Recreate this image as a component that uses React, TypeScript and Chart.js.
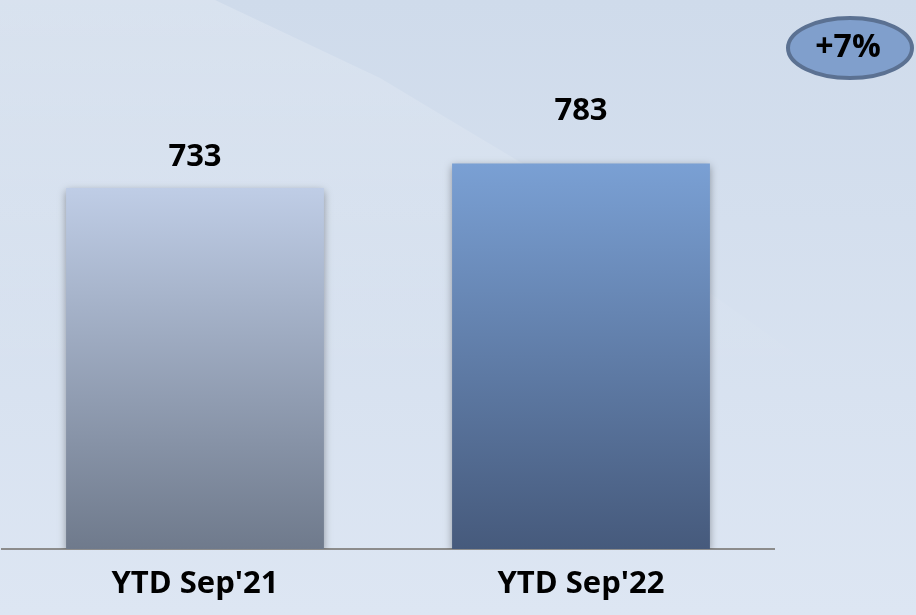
import { useEffect, useRef } from "react";
import { Chart, registerables } from "chart.js";

Chart.register(...registerables);

const categories = ["YTD Sep'21", "YTD Sep'22"];
const values = [733, 783];
const labelOffsets = [31, 52];

const FONT = "'Open Sans', sans-serif";
const barTop = ["#bfcde6", "#7aa0d4"];
const barBottom = ["#6f7a8c", "#465a7c"];

export default function App() {
  const ref = useRef<HTMLCanvasElement>(null);

  useEffect(() => {
    const canvas = ref.current!;

    const bgPlugin = {
      id: "bg",
      beforeDraw(chart: any) {
        const { ctx, width, height } = chart;
        ctx.save();
        const g = ctx.createLinearGradient(0, 0, 0, height);
        g.addColorStop(0, "#cfdbeb");
        g.addColorStop(1, "#dde6f3");
        ctx.fillStyle = g;
        ctx.fillRect(0, 0, width, height);
        const g2 = ctx.createLinearGradient(0, 0, 0, 380);
        g2.addColorStop(0, "rgba(255,255,255,0.2)");
        g2.addColorStop(1, "rgba(255,255,255,0)");
        ctx.beginPath();
        ctx.moveTo(0, 0);
        ctx.lineTo(215, 0);
        ctx.lineTo(380, 78);
        ctx.lineTo(530, 168);
        ctx.lineTo(720, 300);
        ctx.lineTo(916, 440);
        ctx.lineTo(916, 615);
        ctx.lineTo(0, 615);
        ctx.closePath();
        ctx.fillStyle = g2;
        ctx.fill();
        ctx.restore();
      },
    };

    const shadowPlugin = {
      id: "shadow",
      beforeDatasetsDraw(chart: any) {
        const ctx = chart.ctx;
        ctx.save();
        ctx.shadowColor = "rgba(0,0,0,0.35)";
        ctx.shadowBlur = 8;
        ctx.shadowOffsetX = 0;
        ctx.shadowOffsetY = 3;
      },
      afterDatasetsDraw(chart: any) {
        chart.ctx.restore();
      },
    };

    const labelPlugin = {
      id: "labels",
      afterDraw(chart: any) {
        const { ctx } = chart;
        const meta = chart.getDatasetMeta(0);
        ctx.save();
        ctx.fillStyle = "#000";
        ctx.font = `bold 31px ${FONT}`;
        ctx.textAlign = "center";
        ctx.textBaseline = "middle";
        meta.data.forEach((bar: any, i: number) => {
          ctx.fillText(String(values[i]), bar.x, bar.y - labelOffsets[i]);
        });
        // growth ellipse
        const growth = Math.round((values[1] / values[0] - 1) * 100);
        const cx = 850, cy = 48;
        ctx.beginPath();
        ctx.ellipse(cx, cy, 62, 30, 0, 0, Math.PI * 2);
        ctx.fillStyle = "#809fcc";
        ctx.fill();
        ctx.lineWidth = 4;
        ctx.strokeStyle = "#5b7192";
        ctx.stroke();
        ctx.fillStyle = "#000";
        ctx.font = `bold 32px ${FONT}`;
        ctx.fillText(`${growth >= 0 ? "+" : ""}${growth}%`, cx - 2, cy);
        ctx.restore();
      },
    };

    const chart = new Chart(canvas, {
      type: "bar",
      data: {
        labels: categories,
        datasets: [
          {
            data: values,
            backgroundColor: (c: any) => {
              const chart = c.chart;
              const i = c.dataIndex;
              const area = chart.chartArea;
              if (!area || i === undefined) return barTop[0];
              const y = chart.scales.y;
              const top = y.getPixelForValue(values[i]);
              const bottom = y.getPixelForValue(0);
              const g = chart.ctx.createLinearGradient(0, top, 0, bottom);
              g.addColorStop(0, barTop[i]);
              g.addColorStop(1, barBottom[i]);
              return g;
            },
            borderWidth: 0,
            barPercentage: 0.668,
            categoryPercentage: 1,
          },
        ],
      },
      options: {
        animation: false,
        responsive: false,
        layout: { padding: { left: 2, right: 142, top: 0, bottom: 0 } },
        plugins: { legend: { display: false }, tooltip: { enabled: false } },
        scales: {
          x: {
            grid: { display: false, drawTicks: false },
            border: { display: true, color: "#8c8c8c", width: 2 },
            ticks: {
              color: "#000",
              font: { family: FONT, size: 31, weight: "bold" },
              padding: 17,
            },
            afterFit: (scale: any) => {
              scale.height = 66;
            },
          },
          y: { display: false, min: 0, max: 1115 },
        },
      },
      plugins: [bgPlugin, shadowPlugin, labelPlugin],
    });
    return () => chart.destroy();
  }, []);

  return (
    <div style={{ position: "fixed", left: 0, top: 0, width: 916, height: 615 }}>
      <canvas ref={ref} width={916} height={615} style={{ width: 916, height: 615, display: "block" }} />
    </div>
  );
}
